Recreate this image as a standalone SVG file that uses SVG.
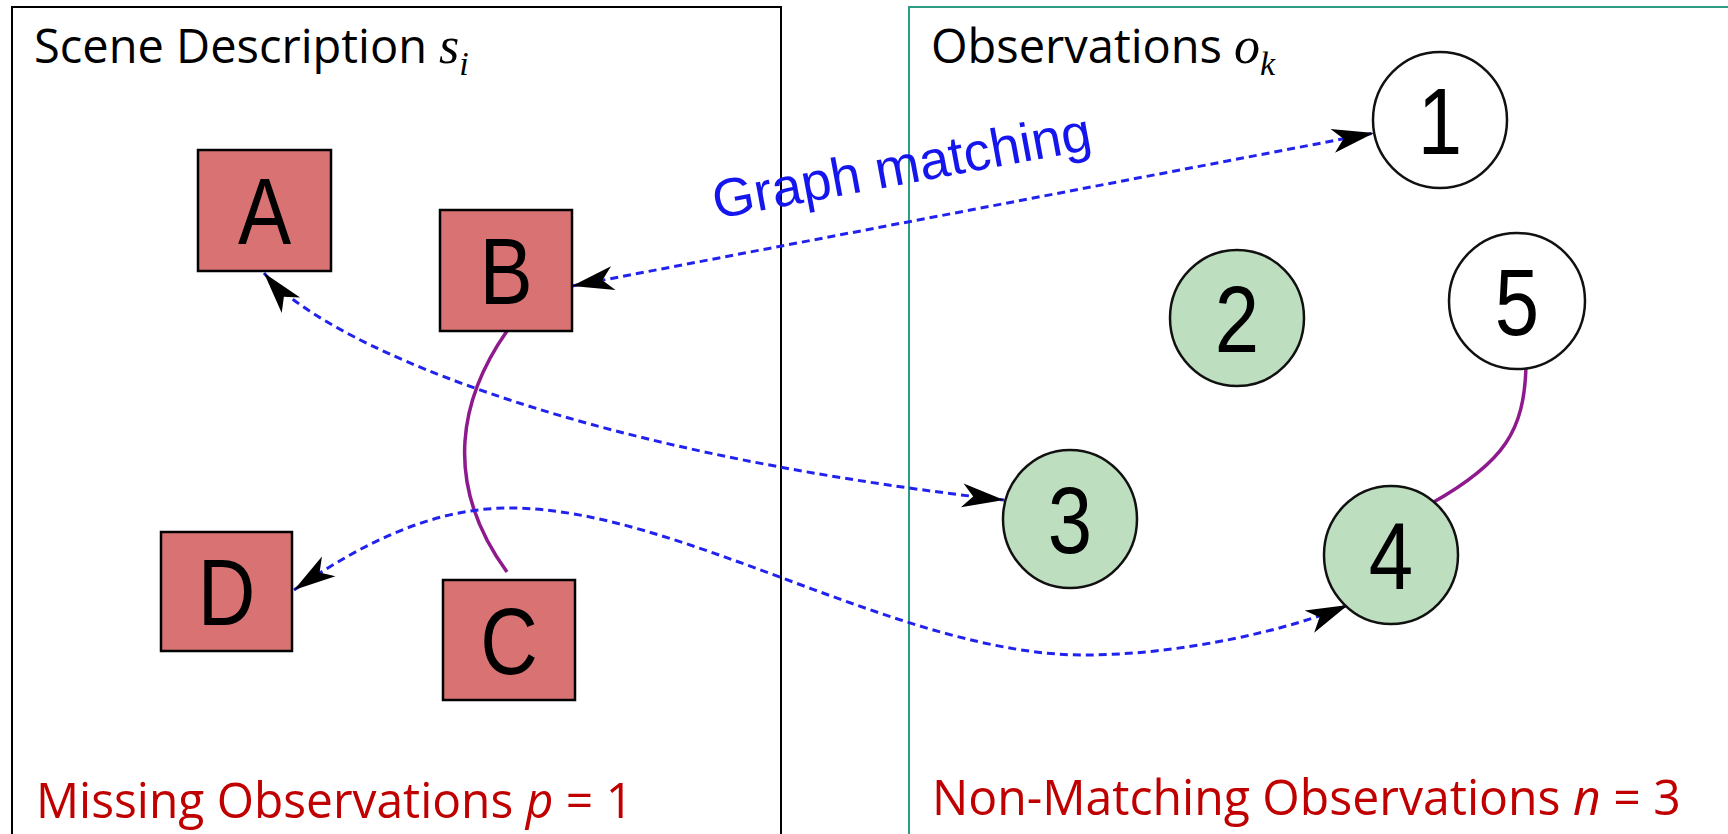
<svg xmlns="http://www.w3.org/2000/svg" width="1728" height="834" viewBox="0 0 1728 834">
<style>
.title{font-family:"Open Sans","Noto Sans",sans-serif;font-size:47px;fill:#000}
.math{font-family:"Liberation Serif",serif;font-style:italic}
.red{font-family:"Open Sans","Noto Sans",sans-serif;font-size:50px;fill:#C00000}
.it{font-style:italic}
.box{fill:#D97373;stroke:#000;stroke-width:2.5}
.obs{fill:#BEDFBF;stroke:#111;stroke-width:2.5}
.obsw{fill:#fff;stroke:#111;stroke-width:2.5}
.lbl{font-family:"Liberation Sans",Arial,sans-serif;font-size:95px;fill:#000;text-anchor:middle}
.match{fill:none;stroke:#2222EE;stroke-width:3;stroke-dasharray:8 5}
.rel{fill:none;stroke:#8E1A8E;stroke-width:3.5}
.gm{font-family:"Liberation Sans",Arial,sans-serif;font-size:54px;fill:#1515EE}
</style>
<defs>
<marker id="arr" markerUnits="userSpaceOnUse" viewBox="-45 -15 50 30" refX="0" refY="0" markerWidth="50" markerHeight="30" orient="auto-start-reverse">
<path d="M0,0 L-42,-12 L-31,0 L-42,12 Z" fill="#000"/>
</marker>
</defs>
<rect width="1728" height="834" fill="#fff"/>
<g id="panel-scene">
<rect x="12" y="7" width="769" height="900" fill="none" stroke="#000" stroke-width="2"/>
<text class="title" x="34" y="63">Scene Description<tspan class="math" dx="12" font-size="52">s</tspan><tspan class="math" font-size="34" dy="12">i</tspan></text>
<text class="red" transform="translate(36,818) scale(0.958,1)">Missing Observations <tspan class="it">p</tspan> = 1</text>
</g>
<g id="panel-obs">
<rect x="909" y="7" width="900" height="900" fill="none" stroke="#2E9B85" stroke-width="2"/>
<text class="title" x="931" y="63">Observations<tspan class="math" dx="12" font-size="52">o</tspan><tspan class="math" font-size="34" dy="12">k</tspan></text>
<text class="red" transform="translate(932,815) scale(0.963,1)">Non-Matching Observations <tspan class="it">n</tspan> = 3</text>
</g>
<g id="connectors">
<path class="rel" d="M507,331 C462,395 440,480 507,572"/>
<path class="rel" d="M1526,367 C1524,430 1505,462 1432,503"/>
<path class="match" d="M572,286 L1374,133" marker-start="url(#arr)" marker-end="url(#arr)"/>
<path class="match" d="M264,273 C320,340 560,450 1004,500" marker-start="url(#arr)" marker-end="url(#arr)"/>
<path class="match" d="M294,590 C360,545 430,508 510,508 C680,508 900,655 1084,655 C1180,655 1290,630 1348,605" marker-start="url(#arr)" marker-end="url(#arr)"/>
<text class="gm" transform="translate(716,219) rotate(-10.5)">Graph matching</text>
</g>
<g id="node-A"><rect class="box" x="198" y="150" width="133" height="121"/><text class="lbl" transform="translate(264.5,244) scale(0.84,1)">A</text></g>
<g id="node-B"><rect class="box" x="440" y="210" width="132" height="121"/><text class="lbl" transform="translate(506,304) scale(0.84,1)">B</text></g>
<g id="node-C"><rect class="box" x="443" y="580" width="132" height="120"/><text class="lbl" transform="translate(509,674) scale(0.84,1)">C</text></g>
<g id="node-D"><rect class="box" x="161" y="532" width="131" height="119"/><text class="lbl" transform="translate(226.5,625) scale(0.84,1)">D</text></g>
<g id="node-1"><ellipse class="obsw" cx="1440" cy="120" rx="67" ry="68"/><text class="lbl" transform="translate(1440,154) scale(0.84,1)">1</text></g>
<g id="node-2"><ellipse class="obs" cx="1237" cy="318" rx="67" ry="68"/><text class="lbl" transform="translate(1237,352) scale(0.84,1)">2</text></g>
<g id="node-3"><ellipse class="obs" cx="1070" cy="519" rx="67" ry="69"/><text class="lbl" transform="translate(1070,553) scale(0.84,1)">3</text></g>
<g id="node-4"><ellipse class="obs" cx="1391" cy="555" rx="67" ry="69"/><text class="lbl" transform="translate(1391,589) scale(0.84,1)">4</text></g>
<g id="node-5"><ellipse class="obsw" cx="1517" cy="301" rx="68" ry="68"/><text class="lbl" transform="translate(1517,335) scale(0.84,1)">5</text></g>
</svg>
